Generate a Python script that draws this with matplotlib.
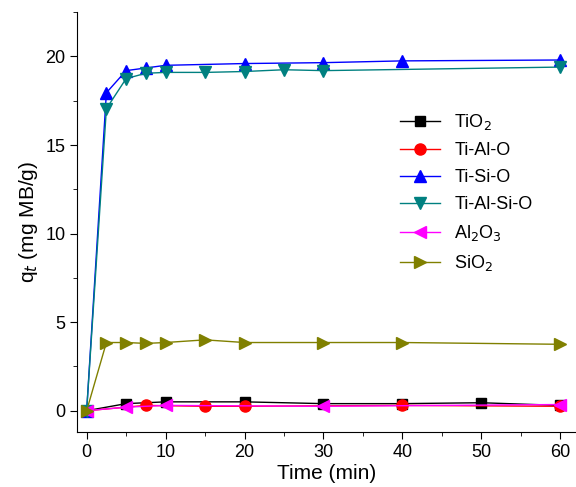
import matplotlib.pyplot as plt
from matplotlib.ticker import MultipleLocator

plt.rcParams['font.family'] = ['Liberation Sans', 'DejaVu Sans']

# data
t_tio2 = [0, 5, 10, 20, 30, 40, 50, 60]
q_tio2 = [0, 0.4, 0.5, 0.5, 0.4, 0.4, 0.45, 0.3]

t_tialo = [0, 7.5, 15, 20, 40, 60]
q_tialo = [0, 0.3, 0.25, 0.25, 0.3, 0.25]

t_tisio = [0, 2.5, 5, 7.5, 10, 20, 30, 40, 60]
q_tisio = [0, 17.95, 19.2, 19.35, 19.5, 19.6, 19.65, 19.75, 19.8]

t_tialsio = [0, 2.5, 5, 7.5, 10, 15, 20, 25, 30, 60]
q_tialsio = [0, 17.05, 18.75, 19.05, 19.1, 19.1, 19.15, 19.25, 19.2, 19.4]

t_al2o3 = [0, 5, 10, 30, 60]
q_al2o3 = [0, 0.2, 0.3, 0.25, 0.35]

t_sio2 = [0, 2.5, 5, 7.5, 10, 15, 20, 30, 40, 60]
q_sio2 = [0, 3.85, 3.85, 3.8, 3.85, 4.0, 3.85, 3.85, 3.85, 3.75]

series = [
    (t_tio2, q_tio2, 'TiO$_2$', 'black', 's', 7),
    (t_tialo, q_tialo, 'Ti-Al-O', 'red', 'o', 8),
    (t_tisio, q_tisio, 'Ti-Si-O', 'blue', '^', 9),
    (t_tialsio, q_tialsio, 'Ti-Al-Si-O', '#008080', 'v', 9),
    (t_al2o3, q_al2o3, 'Al$_2$O$_3$', 'magenta', '<', 9),
    (t_sio2, q_sio2, 'SiO$_2$', '#808000', '>', 9),
]

fig = plt.figure(figsize=(5.76, 4.87), dpi=100)
ax = fig.add_axes([0.134, 0.113, 0.866, 0.862])

for t, q, label, color, marker, ms in series:
    ax.plot(t, q, color=color, marker=marker, markersize=ms, linewidth=1,
            label=label)

ax.set_xlim(-1.2, 62)
ax.set_ylim(-1.2, 22.5)
ax.xaxis.set_major_locator(MultipleLocator(10))
ax.xaxis.set_minor_locator(MultipleLocator(5))
ax.yaxis.set_major_locator(MultipleLocator(5))
ax.yaxis.set_minor_locator(MultipleLocator(2.5))
ax.tick_params(which='major', direction='out', length=5, labelsize=13)
ax.tick_params(which='minor', direction='out', length=3)
ax.spines['top'].set_visible(False)
ax.spines['right'].set_visible(False)

ax.set_xlabel('Time (min)', fontsize=15, labelpad=2)
ax.set_ylabel('q$_t$ (mg MB/g)', fontsize=15)

ax.legend(loc='upper left', bbox_to_anchor=(0.615, 0.80), frameon=False,
          fontsize=13, handlelength=2.2, labelspacing=0.55)

fig.savefig('out.png', dpi=100)
